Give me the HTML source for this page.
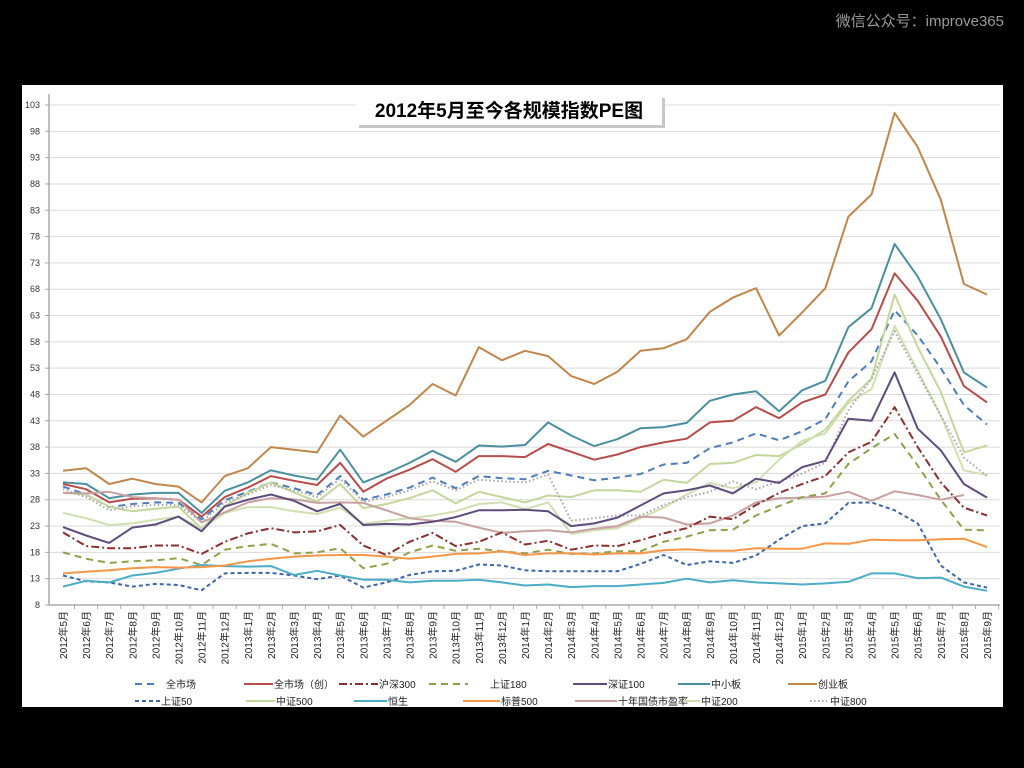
<!DOCTYPE html>
<html><head><meta charset="utf-8">
<style>
html,body{margin:0;padding:0;background:#000;width:1024px;height:768px;overflow:hidden}
svg text{font-family:"Liberation Sans","Noto Sans CJK SC",sans-serif}
</style></head>
<body>
<svg id="s" width="1024" height="768" xmlns="http://www.w3.org/2000/svg">
<rect x="0" y="0" width="1024" height="768" fill="#000"/>
<text x="1004" y="26" font-size="15" fill="#9a9a9a" text-anchor="end">微信公众号：improve365</text>
<rect x="22" y="85" width="981" height="622" fill="#fff"/>
<g id="g"></g>
<rect x="359" y="98" width="306" height="30" fill="#c8c8c8"/>
<rect x="356" y="95" width="306" height="30" fill="#fff"/>
<text x="509" y="117" font-size="19" font-weight="bold" text-anchor="middle" fill="#000">2012年5月至今各规模指数PE图</text>
</svg>
<script>
var g=document.getElementById('g'),h='';
function Y(v){return 605-(v-8)*5.263;}
function X(i){return 63+i*23.1;}
for(var v=8;v<=103;v+=5){var y=Y(v);
 if(v>8)h+='<line x1="49" x2="1000" y1="'+y+'" y2="'+y+'" stroke="#d9d9d9" stroke-width="1"/>';
 h+='<line x1="45" x2="49" y1="'+y+'" y2="'+y+'" stroke="#aaa"/>';
 h+='<text x="40" y="'+(y+3)+'" font-size="9" text-anchor="end" fill="#333">'+v+'</text>';}
h+='<line x1="49" x2="49" y1="94" y2="605" stroke="#aaa" stroke-width="1.5"/>';
h+='<line x1="49" x2="1000" y1="605" y2="605" stroke="#aaa" stroke-width="1.5"/>';
var yr=2012,m=5;
for(var i=0;i<41;i++){var x=X(i);
 h+='<line x1="'+(x+11.5)+'" x2="'+(x+11.5)+'" y1="605" y2="609" stroke="#aaa"/>';
 h+='<text transform="translate('+(x+4)+',611) rotate(-90)" font-size="10" text-anchor="end" fill="#222">'+yr+'年'+m+'月</text>';
 m++;if(m>12){m=1;yr++;}}
var S=[
["创业板","#c0864b","",[33.5,34,31,32,31,30.5,27.5,32.5,34,38,37.5,37,44,40,43,46,50,47.8,57,54.5,56.3,55.3,51.5,50,52.3,56.3,56.8,58.5,63.7,66.4,68.2,59.2,63.6,68.2,81.8,86,101.5,95,85,69,67]],
["中小板","#4a8fa0","",[31.3,31,28.3,29,29.3,29.3,25.5,29.7,31.3,33.6,32.6,31.8,37.5,31.3,33,35,37.3,35.2,38.3,38.1,38.4,42.7,40.2,38.2,39.5,41.6,41.8,42.6,46.8,48,48.6,44.8,48.8,50.6,60.8,64.4,76.6,70.4,62.3,52.2,49.3]],
["全市场（创）","#b84c4a","",[31,30,27.5,28.2,28.3,28,24.8,28.5,30.3,32.5,31.6,30.8,35,29.5,32,33.7,35.7,33.3,36.3,36.3,36.1,38.6,37.1,35.6,36.6,38,38.9,39.6,42.7,43,45.6,43.5,46.5,48,56,60.4,71,65.8,59,49.6,46.5]],
["全市场","#4f7dba","7,5",[30.5,29,26.6,27.2,27.5,27.4,24.3,27.9,29.5,31.3,30.2,28.9,32.5,28,29,30.3,32.2,30.2,32.5,32.1,31.9,33.5,32.6,31.7,32.2,32.9,34.7,35,37.8,38.9,40.6,39.3,41,43.3,50.5,54.3,64,59.2,53,46,42.3]],
["中证500","#c4d79b","",[29.3,29,26.7,25.8,26.3,26.7,22.5,26.8,29.3,31.3,29.4,27.6,31,26.4,27.2,28.3,29.8,27.3,29.5,28.5,27.5,28.8,28.5,29.8,29.8,29.5,31.8,31.2,34.8,35,36.5,36.3,38.6,41.3,46.8,51,67,57,48.5,37,38.3]],
["中证200","#d0dfb0","",[25.5,24.5,23.2,23.5,24.2,24.8,22.5,25.5,26.6,26.6,25.8,25.3,26.5,23.4,24,24.5,25,25.8,27.2,27.5,26.2,27.5,21.5,22.2,22.6,24.5,26.5,29,31.2,30.2,31.3,35.6,39.2,40.6,46.4,49,61,52.5,44,33.6,32.7]],
["十年国债市盈率","#c9a0a0","",[29.3,29.2,29.5,28.5,28.3,28,23.7,25.6,27.5,28.3,28.1,27.4,27.5,27.4,26,24.5,24,23.8,22.7,21.7,22,22.2,21.8,22.5,23,24.8,24.6,23.3,23.5,25,27.5,28.3,28.4,28.6,29.5,27.8,29.6,28.9,28,28.9]],
["中证800","#a6a6a6","1.5,2.5",[30,28.5,26,26.8,27,27,23.8,27.5,29,30.8,29.8,28.5,32,27.6,28.5,29.8,31.5,29.8,31.8,31.5,31.3,32.8,24,24.5,25,25,27,28.5,29.5,31.5,30,31.5,33,35,45,51,60,52,44,36,32.5]],
["深证100","#5e4c7e","",[22.8,21.2,19.8,22.7,23.3,24.8,22,26.7,28,29,27.8,25.8,27.2,23.2,23.4,23.3,23.8,24.7,26,26,26.1,25.8,23,23.5,24.6,26.9,29.2,29.8,30.7,29.2,32,31.2,34.2,35.4,43.4,43,52.2,41.5,37.4,31,28.4]],
["沪深300","#8b2f2f","8,3,2,3",[21.8,19.2,18.8,18.8,19.3,19.3,17.7,20,21.6,22.6,21.8,22,23.2,19.3,17.5,20,21.7,19.2,20,21.8,19.5,20.2,18.5,19.3,19.2,20.3,21.6,22.6,24.8,24.3,27,29.3,31,32.5,37,39,45.6,38,31.3,26.5,25]],
["上证180","#8fa04b","7,5",[18,16.8,16,16.3,16.5,16.9,15.6,18.5,19.2,19.6,17.8,18,18.8,15,15.8,18,19.3,18.3,18.7,18.2,17.8,18.5,17.7,17.8,18.2,18.2,20,21,22.2,22.3,25,26.8,28.5,29.2,34.8,37.8,40.5,34.5,28,22.3,22.2]],
["上证50","#3f66a8","4,3",[13.6,12.5,12.3,11.5,12,11.8,10.8,14,14.1,14.1,13.6,12.9,13.6,11.3,12.3,13.7,14.4,14.5,15.7,15.5,14.6,14.4,14.4,14.4,14.4,15.8,17.5,15.6,16.3,16,17.4,20.4,23,23.5,27.4,27.5,26,23.5,15.5,12.3,11.3]],
["恒生","#4bacc6","",[11.5,12.6,12.3,13.6,14.1,14.9,15.6,15.4,15.3,15.4,13.7,14.5,13.6,12.8,12.8,12.3,12.6,12.6,12.8,12.3,11.7,11.9,11.4,11.6,11.6,11.9,12.2,13,12.3,12.7,12.3,12.1,11.9,12.1,12.4,14,14,13.1,13.2,11.5,10.7]],
["标普500","#f79646","",[14,14.3,14.6,15,15.2,15.1,15.2,15.5,16.3,16.8,17.2,17.4,17.5,17.5,17.2,16.8,17.2,17.7,17.8,18.2,17.5,17.8,17.8,17.6,17.8,17.8,18.4,18.6,18.3,18.3,18.8,18.7,18.7,19.7,19.6,20.4,20.3,20.3,20.5,20.6,19]]
];
var st={};
S.forEach(function(s){var p='';s[3].forEach(function(v,i){p+=(i?'L':'M')+X(i).toFixed(1)+','+Y(v).toFixed(1);});
 st[s[0]]=s;
 h+='<path d="'+p+'" fill="none" stroke="'+s[1]+'" stroke-width="2"'+(s[2]?' stroke-dasharray="'+s[2]+'"':'')+' stroke-linejoin="round"/>';});
var L=[["全市场",135,154,166,684],["全市场（创）",244,273,274,684],["沪深300",339,378,379,684],["上证180",429,468,490,684],["深证100",573,607,608,684],["中小板",678,710,711,684],["创业板",788,817,818,684],
["上证50",135,160,161,701],["中证500",246,275,276,701],["恒生",354,387,388,701],["标普500",463,500,501,701],["十年国债市盈率",575,617,618,701],["中证200",683,700,701,701],["中证800",810,827,830,701]];
L.forEach(function(l){var s=st[l[0]];
 h+='<line x1="'+l[1]+'" x2="'+l[2]+'" y1="'+l[4]+'" y2="'+l[4]+'" stroke="'+s[1]+'" stroke-width="2"'+(s[2]?' stroke-dasharray="'+s[2]+'"':'')+'/>';
 h+='<text x="'+l[3]+'" y="'+(l[4]+4)+'" font-size="10" fill="#222">'+l[0]+'</text>';});
g.innerHTML=h;
</script>
</body></html>
